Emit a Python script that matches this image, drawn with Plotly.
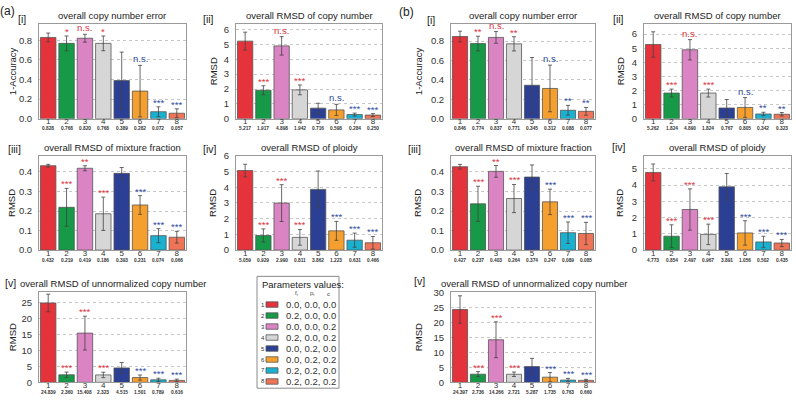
import plotly.graph_objects as go

W, H = 796, 400

categories = ["1", "2", "3", "4", "5", "6", "7", "8"]
colors = ["#E5333B", "#169A48", "#DA84C4", "#D6D6D6", "#2B3F95", "#F5A02E", "#19B1CF", "#EF7357"]
param_values = ["0.0, 0.0, 0.0", "0.2, 0.0, 0.0", "0.0, 0.0, 0.2", "0.2, 0.0, 0.2",
                "0.0, 0.2, 0.0", "0.0, 0.2, 0.2", "0.2, 0.2, 0.0", "0.2, 0.2, 0.2"]

# (a)
a1_vals = [0.828, 0.768, 0.820, 0.768, 0.389, 0.282, 0.072, 0.057]
a1_errs = [0.045, 0.075, 0.040, 0.075, 0.290, 0.262, 0.050, 0.045]
a1_sig = ["", "*", "n.s.", "*", "", "n.s.", "***", "***"]

a2_vals = [5.217, 1.917, 4.898, 1.942, 0.716, 0.598, 0.284, 0.250]
a2_errs = [0.60, 0.30, 0.62, 0.33, 0.33, 0.37, 0.10, 0.10]
a2_sig = ["", "***", "n.s.", "***", "", "n.s.", "***", "***"]

a3_vals = [0.432, 0.219, 0.419, 0.186, 0.393, 0.231, 0.074, 0.066]
a3_errs = [0.007, 0.097, 0.013, 0.085, 0.030, 0.048, 0.036, 0.030]
a3_sig = ["", "***", "**", "***", "", "***", "***", "***"]

a4_vals = [5.059, 0.929, 2.990, 0.811, 3.862, 1.223, 0.631, 0.466]
a4_errs = [0.40, 0.42, 1.17, 0.50, 1.17, 0.60, 0.45, 0.40]
a4_sig = ["", "***", "***", "***", "", "***", "***", "***"]

a5_vals = [24.839, 2.360, 15.408, 2.323, 4.515, 1.501, 0.789, 0.616]
a5_errs = [2.75, 0.85, 5.30, 0.85, 1.70, 0.80, 0.50, 0.40]
a5_sig = ["", "***", "***", "***", "", "***", "***", "***"]

# (b)
b1_vals = [0.846, 0.774, 0.837, 0.771, 0.345, 0.312, 0.088, 0.077]
b1_errs = [0.055, 0.075, 0.060, 0.073, 0.285, 0.240, 0.050, 0.040]
b1_sig = ["", "**", "n.s.", "**", "", "n.s.", "**", "**"]

b2_vals = [5.262, 1.824, 4.890, 1.824, 0.767, 0.805, 0.342, 0.323]
b2_errs = [0.90, 0.28, 0.72, 0.28, 0.60, 0.70, 0.12, 0.12]
b2_sig = ["", "***", "n.s.", "***", "", "n.s.", "**", "**"]

b3_vals = [0.427, 0.237, 0.403, 0.264, 0.374, 0.247, 0.089, 0.085]
b3_errs = [0.012, 0.090, 0.030, 0.072, 0.062, 0.065, 0.055, 0.057]
b3_sig = ["", "***", "**", "***", "", "***", "***", "***"]

b4_vals = [4.773, 0.854, 2.497, 0.967, 3.891, 1.056, 0.502, 0.435]
b4_errs = [0.52, 0.70, 1.27, 0.63, 0.82, 0.75, 0.35, 0.22]
b4_sig = ["", "***", "***", "***", "", "***", "***", "***"]

b5_vals = [24.397, 2.736, 14.266, 2.721, 5.287, 1.735, 0.763, 0.660]
b5_errs = [4.60, 0.85, 6.00, 0.75, 2.75, 1.55, 0.55, 0.35]
b5_sig = ["", "***", "***", "***", "", "***", "***", "***"]

# Layout (pixel boxes of plot areas)
colA1, colA2, colB1, colB2 = (39, 186), (236, 382), (451, 595), (644, 791)
row1, row2, row3 = (18, 116), (154, 251), (294, 387)

panels = [
    dict(v=a1_vals, e=a1_errs, s=a1_sig, title="overall copy number error", yl="1-Accuracy", tag="[i]",
         col=colA1, row=row1, yr=[0, 0.97], dt=0.2, fmt=".1f", tagpos=(22, 13), tx=112.5),
    dict(v=a2_vals, e=a2_errs, s=a2_sig, title="overall RMSD of copy number", yl="RMSD", tag="[ii]",
         col=colA2, row=row1, yr=[0, 6.4], dt=1, fmt="d", tagpos=(208, 13), tx=309),
    dict(v=a3_vals, e=a3_errs, s=a3_sig, title="overall RMSD of mixture fraction", yl="RMSD", tag="[iii]",
         col=colA1, row=row2, yr=[0, 0.483], dt=0.1, fmt=".1f", tagpos=(15, 147), tx=112.5),
    dict(v=a4_vals, e=a4_errs, s=a4_sig, title="overall RMSD of ploidy", yl="RMSD", tag="[iv]",
         col=colA2, row=row2, yr=[0, 6.0], dt=1, fmt="d", tagpos=(210, 147), tx=309),
    dict(v=a5_vals, e=a5_errs, s=a5_sig, title="overall RMSD of unnormalized copy number", yl="RMSD", tag="[v]",
         col=colA1, row=row3, yr=[0, 28.3], dt=5, fmt="d", tagpos=(10, 285), tx=113),
    dict(v=b1_vals, e=b1_errs, s=b1_sig, title="overall copy number error", yl="1-Accuracy", tag="[i]",
         col=colB1, row=row1, yr=[0, 0.98], dt=0.2, fmt=".1f", tagpos=(431, 14), tx=523),
    dict(v=b2_vals, e=b2_errs, s=b2_sig, title="overall RMSD of copy number", yl="RMSD", tag="[ii]",
         col=colB2, row=row1, yr=[0, 6.75], dt=1, fmt="d", tagpos=(618, 13), tx=717),
    dict(v=b3_vals, e=b3_errs, s=b3_sig, title="overall RMSD of mixture fraction", yl="RMSD", tag="[iii]",
         col=colB1, row=row2, yr=[0, 0.483], dt=0.1, fmt=".1f", tagpos=(415, 147), tx=523),
    dict(v=b4_vals, e=b4_errs, s=b4_sig, title="overall RMSD of ploidy", yl="RMSD", tag="[iv]",
         col=colB2, row=row2, yr=[0, 5.8], dt=1, fmt="d", tagpos=(619, 145), tx=717),
    dict(v=b5_vals, e=b5_errs, s=b5_sig, title="overall RMSD of unnormalized copy number", yl="RMSD", tag="[v]",
         col=colB1, row=row3, yr=[0, 30.3], dt=5, fmt="d", tagpos=(419, 283), tx=534),
]

FONT = "Liberation Sans, Arial, sans-serif"
RED = "#E0323C"
BLUE = "#2E4C9C"
xpos = list(range(1, len(categories) + 1))

def px(x):
    return x / W

def py(y):
    return 1 - y / H

def ann(**kw):
    d = dict(showarrow=False, xanchor="center", yanchor="middle")
    d.update(kw)
    return d

fig = go.Figure()
annotations = []
shapes = []
layout = {}

for i, p in enumerate(panels, start=1):
    sfx = "" if i == 1 else str(i)
    xa, ya = "x" + sfx, "y" + sfx
    fig.add_trace(go.Bar(
        x=xpos, y=p["v"], width=0.84,
        marker=dict(color=colors, line=dict(color="#555555", width=0.8)),
        error_y=dict(type="data", array=p["e"], color="#444444", thickness=0.8, width=2),
        xaxis=xa, yaxis=ya, showlegend=False, hoverinfo="skip"))
    x0, x1 = p["col"]
    y0, y1 = p["row"]
    layout["xaxis" + sfx] = dict(
        domain=[px(x0), px(x1)], anchor=ya, range=[0.5, len(categories) + 0.5],
        tickvals=xpos, ticktext=categories,
        showline=True, mirror=True, linecolor="#9a9a9a", linewidth=1,
        ticks="", tickfont=dict(size=8, color="#333"), showgrid=False, zeroline=False,
        ticklabelstandoff=-5)
    layout["yaxis" + sfx] = dict(
        domain=[py(y1), py(y0)], anchor=xa, range=p["yr"], dtick=p["dt"], tick0=0,
        tickformat=p["fmt"], showline=True, mirror=True, linecolor="#9a9a9a", linewidth=1,
        ticks="", tickfont=dict(size=9.5, color="#333"), showgrid=True, gridcolor="#c8c8c8",
        griddash="dot", gridwidth=1, zeroline=False, ticklabelstandoff=4)
    # value labels under the category numbers
    for xv, v in zip(xpos, p["v"]):
        annotations.append(ann(x=xv, y=0, xref=xa, yref=ya + " domain", text="<b>%.3f</b>" % v,
                               yshift=-10, font=dict(size=4.8, color="#333", family=FONT)))
    # significance markers
    for k, (xv, v, e, s) in enumerate(zip(xpos, p["v"], p["e"], p["s"])):
        if not s:
            continue
        col = RED if k < 4 else BLUE
        annotations.append(ann(x=xv, y=v + e, xref=xa, yref=ya, text=s, yanchor="bottom",
                               yshift=(-1 if s == "n.s." else -3),
                               font=dict(size=9.5, color=col, family=FONT)))
    # title
    annotations.append(ann(x=px(p["tx"]), y=py(y0 - 1), xref="paper", yref="paper",
                           text=p["title"], yanchor="bottom",
                           font=dict(size=9.5, color="#222", family=FONT)))
    # y label
    ylx = {39: 12, 236: 213, 451: 418, 644: 620}[x0]
    annotations.append(ann(x=px(ylx), y=py((y0 + y1) / 2), xref="paper", yref="paper",
                           text=p["yl"], textangle=-90,
                           font=dict(size=9.5, color="#222", family=FONT)))
    # panel tag
    tx, ty = p["tagpos"]
    annotations.append(ann(x=px(tx), y=py(ty), xref="paper", yref="paper", text=p["tag"],
                           font=dict(size=10.5, color="#222", family=FONT)))

for lab, (lx, ly) in [("(a)", (7, 5)), ("(b)", (406, 6))]:
    annotations.append(ann(x=px(lx), y=py(ly), xref="paper", yref="paper", text=lab,
                           font=dict(size=12, color="#222", family=FONT)))

# Parameters legend box
bx0, bx1, by0, by1 = 257, 339, 278, 393
shapes.append(dict(type="rect", xref="paper", yref="paper", x0=px(bx0), x1=px(bx1),
                   y0=py(by1), y1=py(by0), line=dict(color="#8a8a8a", width=1),
                   fillcolor="white"))
annotations.append(ann(x=px(bx0 + 3), y=py(286), xref="paper", yref="paper",
                       text="Parameters values:", xanchor="left",
                       font=dict(size=9.5, color="#222", family=FONT)))
for hx, ht in [(297, "f<sub>r</sub>"), (312, "p<sub>r</sub>"), (328, "c")]:
    annotations.append(ann(x=px(hx), y=py(296), xref="paper", yref="paper", text=ht,
                           font=dict(size=6, color="#444", family=FONT)))
for k, (cat, colr, pv) in enumerate(zip(categories, colors, param_values)):
    ry = 307 + k * 11.3
    annotations.append(ann(x=px(263), y=py(ry), xref="paper", yref="paper", text=cat,
                           font=dict(size=6, color="#333", family=FONT)))
    shapes.append(dict(type="rect", xref="paper", yref="paper", x0=px(266), x1=px(278),
                       y0=py(ry + 2.8), y1=py(ry - 2.8), fillcolor=colr,
                       line=dict(color="#555", width=0.8)))
    annotations.append(ann(x=px(284), y=py(ry), xref="paper", yref="paper", text=pv,
                           xanchor="left", font=dict(size=9.5, color="#333", family=FONT)))

fig.update_layout(
    width=W, height=H, margin=dict(l=0, r=0, t=0, b=0),
    paper_bgcolor="white", plot_bgcolor="white",
    font=dict(family=FONT, color="#222"),
    annotations=annotations, shapes=shapes, **layout)

fig.write_html("out.html", config={"displayModeBar": False},
               post_script="document.body.style.margin='0';document.body.style.padding='0';")
